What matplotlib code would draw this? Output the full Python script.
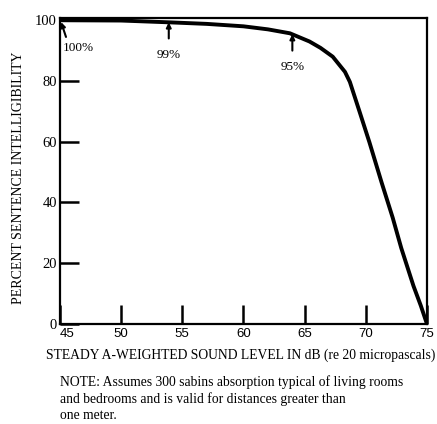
import matplotlib
matplotlib.use("Agg")
import matplotlib.pyplot as plt

plt.rcParams["font.family"] = ["Liberation Serif", "DejaVu Serif"]

# curve
level_db = [45, 50, 54, 57, 60, 62, 63.8, 65.4, 66.3, 67.3, 68.3, 68.7, 69.5, 70.3,
            71.3, 72.2, 72.9, 73.9, 74.5, 75]
intelligibility = [100, 99.9, 99.3, 98.8, 98, 97, 95.7, 93, 90.9, 88, 83, 79.7, 69.8, 59.8,
                   46.5, 35, 25, 12.5, 6, 0]

x_ticks = [45, 50, 55, 60, 65, 70, 75]
y_ticks = [0, 20, 40, 60, 80, 100]

# (label, point on curve, arrow tail, text position)
marks = [
    ("100%", (45.1, 99.4), (45.5, 94.5), (45.2, 90.8)),
    ("99%", (53.9, 99.3), (53.9, 94.0), (53.9, 88.6)),
    ("95%", (64.0, 95.4), (64.0, 90.0), (64.0, 84.6)),
]

fig = plt.figure(figsize=(4.37, 4.24), dpi=100)
ax = fig.add_axes([0.137, 0.236, 0.84, 0.722])

ax.plot(level_db, intelligibility, color="black", linewidth=2.8, solid_capstyle="round")

ax.set_xlim(45, 75)
ax.set_ylim(0, 100.8)
ax.set_xticks(x_ticks)
ax.set_yticks(y_ticks)
ax.tick_params(direction="in", length=14, width=1.8, pad=3)
ax.tick_params(axis="y", labelsize=10.5, pad=2)
for s in ax.spines.values():
    s.set_linewidth(1.6)

for lab in ax.get_xticklabels():
    lab.set_fontfamily(["Liberation Sans", "DejaVu Sans"])
    lab.set_fontsize(9.5)
ax.get_xticklabels()[0].set_horizontalalignment("left")

for txt, tip, tail, pos in marks:
    ax.annotate("", xy=tip, xytext=tail,
                arrowprops=dict(arrowstyle="-|>", color="black", lw=1.5,
                                mutation_scale=7, shrinkA=0, shrinkB=0))
    ha = "left" if txt == "100%" else "center"
    ax.text(pos[0], pos[1], txt, ha=ha, va="center", fontsize=9.5)

fig.text(0.042, 0.58, "PERCENT SENTENCE INTELLIGIBILITY", rotation=90,
         ha="center", va="center", fontsize=10)
fig.text(0.55, 0.163, "STEADY A-WEIGHTED SOUND LEVEL IN dB (re 20 micropascals)",
         ha="center", va="center", fontsize=9.8)
fig.text(0.137, 0.061,
         "NOTE: Assumes 300 sabins absorption typical of living rooms\n"
         "and bedrooms and is valid for distances greater than\n"
         "one meter.",
         ha="left", va="center", fontsize=9.8, linespacing=1.3)

fig.savefig("out.png", dpi=100)
